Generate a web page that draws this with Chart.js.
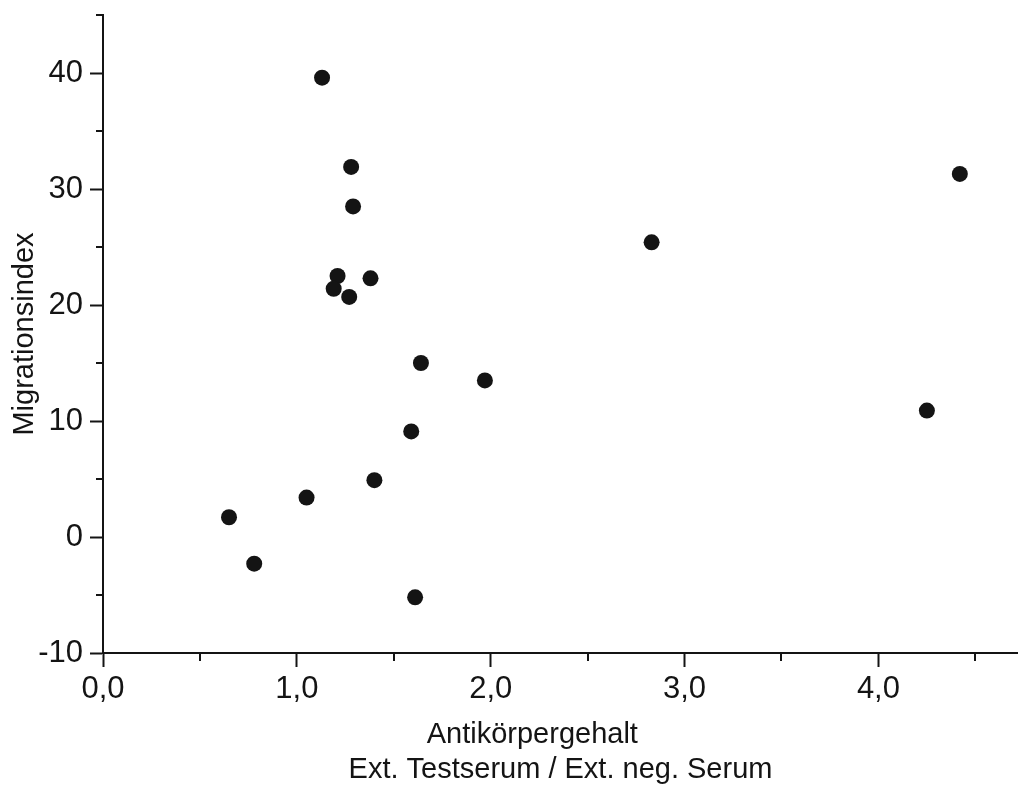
<!DOCTYPE html>
<html>
<head>
<meta charset="utf-8">
<script src="https://cdn.jsdelivr.net/npm/chart.js@4/dist/chart.umd.min.js"></script>
<style>
  html, body { margin: 0; padding: 0; background: #ffffff; }
  #wrap { width: 1018px; height: 789px; }
</style>
</head>
<body>
<div id="wrap"><canvas id="chart" width="1018" height="789"></canvas></div>
<script>
// Antibody content (ratio of test serum extinction to negative serum extinction)
const antibody = [1.13, 1.28, 1.29, 1.21, 1.38, 1.19, 1.27, 1.64, 1.97, 1.59, 1.40, 1.05, 0.65, 0.78, 1.61, 4.42, 2.83, 4.25];
// Migration index for the same sera
const migration = [39.6, 31.9, 28.5, 22.5, 22.3, 21.4, 20.7, 15.0, 13.5, 9.1, 4.9, 3.4, 1.7, -2.3, -5.2, 31.3, 25.4, 10.9];

// Tick labels at the major ticks
const xTickValues = [0, 1, 2, 3, 4];
const xTickLabels = ['0,0', '1,0', '2,0', '3,0', '4,0'];
const yTickValues = [-10, 0, 10, 20, 30, 40];
const yTickLabels = ['-10', '0', '10', '20', '30', '40'];

const xTitle = ['Antikörpergehalt', 'Ext. Testserum / Ext. neg. Serum'];
const yTitle = 'Migrationsindex';

const points = antibody.map((v, i) => ({ x: v, y: migration[i] }));

const INK = '#141414';
const FONT = "'Liberation Sans', Arial, sans-serif";

function labelFor(values, labels, v) {
  const i = values.findIndex(t => Math.abs(t - v) < 1e-6);
  return i >= 0 ? labels[i] : '';
}
function isMajor(values, v) {
  return values.some(t => Math.abs(t - v) < 1e-6);
}

// Short ticks between the labelled ones, placed through the scales
const minorTicks = {
  id: 'minorTicks',
  afterDraw(chart) {
    const ctx = chart.ctx;
    const xs = chart.scales.x, ys = chart.scales.y;
    ctx.save();
    ctx.strokeStyle = INK;
    ctx.lineWidth = 2;
    ctx.beginPath();
    xs.ticks.forEach(t => {
      if (isMajor(xTickValues, t.value)) return;
      const px = Math.round(xs.getPixelForValue(t.value));
      ctx.moveTo(px, xs.top);
      ctx.lineTo(px, xs.top + 8);
    });
    ys.ticks.forEach(t => {
      if (isMajor(yTickValues, t.value)) return;
      const py = Math.round(ys.getPixelForValue(t.value));
      ctx.moveTo(ys.right, py);
      ctx.lineTo(ys.right - 7, py);
    });
    ctx.stroke();
    ctx.restore();
  }
};

new Chart(document.getElementById('chart'), {
  type: 'scatter',
  data: {
    datasets: [{
      data: points,
      pointRadius: 8,
      pointHoverRadius: 8,
      pointBackgroundColor: INK,
      pointBorderWidth: 0,
      borderWidth: 0
    }]
  },
  plugins: [minorTicks],
  options: {
    responsive: false,
    animation: false,
    events: [],
    layout: { autoPadding: false, padding: { top: 15, right: 0, left: 0, bottom: 0 } },
    plugins: { legend: { display: false }, tooltip: { enabled: false } },
    scales: {
      x: {
        type: 'linear',
        min: 0,
        max: 4.72,
        afterFit(scale) {
          scale.height = 136;
          scale.paddingLeft = 0;
          scale.paddingRight = 0;
        },
        border: { display: true, color: INK, width: 2 },
        grid: {
          drawOnChartArea: false,
          drawTicks: true,
          tickLength: 14,
          tickWidth: 2,
          tickColor: c => isMajor(xTickValues, c.tick.value) ? INK : 'rgba(0,0,0,0)'
        },
        ticks: {
          stepSize: 0.5,
          includeBounds: false,
          maxRotation: 0,
          autoSkip: false,
          padding: 4,
          color: INK,
          font: { family: FONT, size: 31 },
          callback: v => labelFor(xTickValues, xTickLabels, v)
        },
        title: {
          display: true,
          text: [xTitle[0] + '\u00a0\u00a0\u00a0\u00a0\u00a0\u00a0\u00a0', xTitle[1]],
          color: INK,
          font: { family: FONT, size: 29, lineHeight: 1.2 },
          padding: { top: 0, bottom: 2 }
        }
      },
      y: {
        type: 'linear',
        min: -10,
        max: 45,
        afterFit(scale) {
          scale.width = 103;
          scale.paddingTop = 0;
          scale.paddingBottom = 0;
        },
        border: { display: true, color: INK, width: 2 },
        grid: {
          drawOnChartArea: false,
          drawTicks: true,
          tickLength: 13,
          tickWidth: 2,
          tickColor: c => isMajor(yTickValues, c.tick.value) ? INK : 'rgba(0,0,0,0)'
        },
        ticks: {
          stepSize: 5,
          includeBounds: false,
          autoSkip: false,
          padding: 7,
          color: INK,
          font: { family: FONT, size: 31 },
          callback: v => labelFor(yTickValues, yTickLabels, v)
        },
        title: {
          display: true,
          text: yTitle,
          color: INK,
          font: { family: FONT, size: 29, lineHeight: 1.2 },
          padding: { top: 8, bottom: 0 }
        }
      }
    }
  }
});
</script>
</body>
</html>
